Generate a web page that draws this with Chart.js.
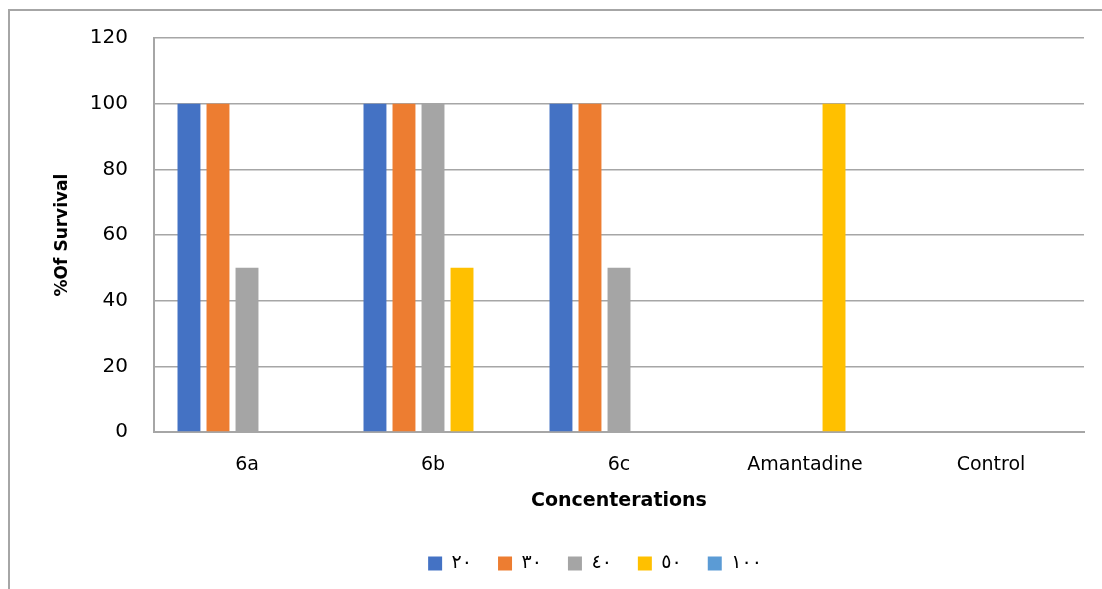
<!DOCTYPE html>
<html>
<head>
<meta charset="utf-8">
<script src="https://cdn.jsdelivr.net/npm/chart.js@4"></script>
<style>
  body { margin: 0; background: #fff; overflow: hidden; }
  #wrap { position: relative; width: 1102px; height: 589px; overflow: hidden; }
  #frame { position: absolute; left: 8px; top: 9px; width: 1200px; height: 700px;
           border-left: 2px solid #a6a6a6; border-top: 2px solid #a6a6a6; }
  canvas { position: absolute; left: 0; top: 0; }
</style>
</head>
<body>
<div id="wrap">
  <div id="frame"></div>
  <canvas id="myChart" width="1102" height="589"></canvas>
</div>
<script>
'use strict';
// ---------- data ------------- //
let categories = ['6a', '6b', '6c', 'Amantadine', 'Control'];
let seriesNames = ['٢٠', '٣٠', '٤٠', '٥٠', '١٠٠'];
let conc20 = [100, 100, 100, 0, 0];
let conc30 = [100, 100, 100, 0, 0];
let conc40 = [50, 100, 50, 0, 0];
let conc50 = [0, 50, 0, 100, 0];
let conc100 = [0, 0, 0, 0, 0];
let yTicks = [0, 20, 40, 60, 80, 100, 120];

let colors = ['#4472C4', '#ED7D31', '#A5A5A5', '#FFC000', '#5B9BD5'];
let allValues = [conc20, conc30, conc40, conc50, conc100];

let datasets = [];
for (let i = 0; i < seriesNames.length; i++) {
  datasets.push({
    label: seriesNames[i],
    data: allValues[i],
    backgroundColor: colors[i],
    borderWidth: 0,
    barPercentage: 0.79,
    categoryPercentage: 0.78
  });
}

let font = "'DejaVu Sans', sans-serif";

// move the legend so it is centred like the original one
let legendShift = {
  id: 'legendShift',
  afterLayout: function (chart) {
    chart.legend.left = 106;
    chart.legend.right = 1084;
  }
};

let chartObject = {
  type: 'bar',
  data: { labels: categories, datasets: datasets },
  plugins: [legendShift],
  options: {
    responsive: false,
    animation: false,
    layout: { padding: { left: 48, top: 29, right: 18, bottom: 6 } },
    plugins: {
      tooltip: { enabled: false },
      legend: {
        position: 'bottom',
        labels: {
          boxWidth: 14,
          boxHeight: 14,
          padding: 26,
          color: '#000',
          font: { family: font, size: 19 }
        }
      }
    },
    scales: {
      x: {
        grid: { display: false, drawTicks: false },
        border: { display: true, color: '#a6a6a6', width: 2 },
        ticks: { color: '#000', padding: 22, font: { family: font, size: 19 } },
        title: {
          display: true,
          text: 'Concenterations',
          color: '#000',
          padding: { top: 1, bottom: 16 },
          font: { family: font, size: 19, weight: 'bold' }
        },
        afterFit: function (scale) { scale.height = 96; }
      },
      y: {
        min: 0,
        max: 120,
        afterBuildTicks: function (scale) {
          scale.ticks = yTicks.map(function (v) { return { value: v }; });
        },
        grid: { color: '#a6a6a6', lineWidth: 1.5, drawTicks: false },
        border: { display: true, color: '#a6a6a6', width: 2 },
        ticks: { color: '#000', padding: 26, font: { family: font, size: 20 } },
        title: {
          display: true,
          text: '%Of Survival',
          color: '#000',
          font: { family: font, size: 17, weight: 'bold' }
        },
        afterFit: function (scale) { scale.width = 106; }
      }
    }
  }
};

let ctx = document.getElementById('myChart').getContext('2d');
let myChart = new Chart(ctx, chartObject);
</script>
</body>
</html>
